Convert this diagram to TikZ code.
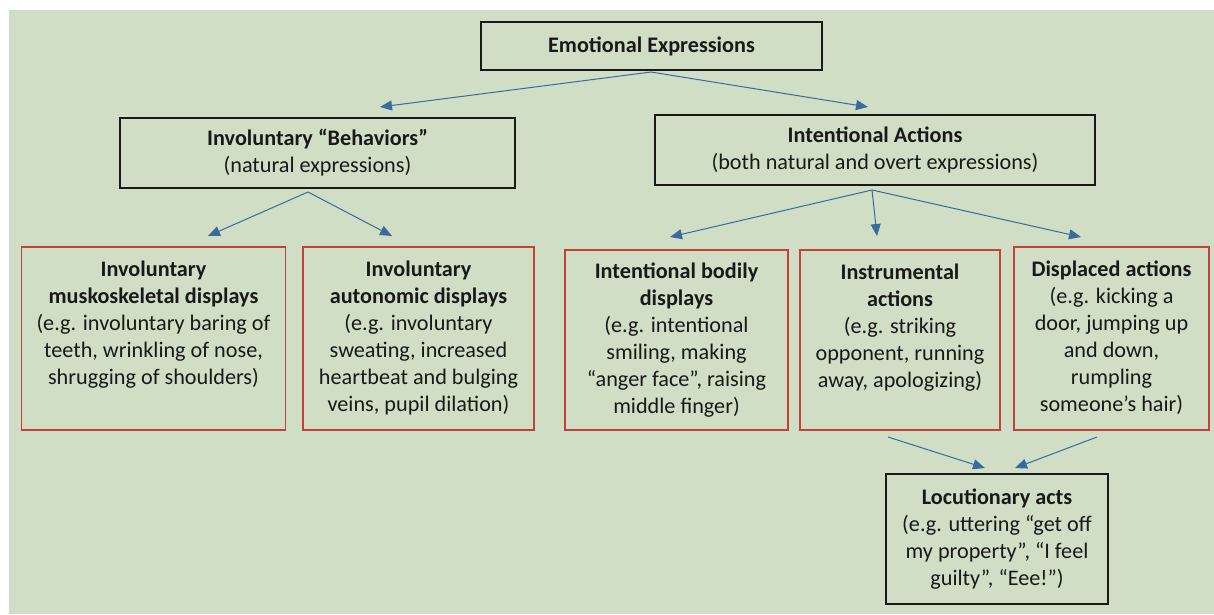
\documentclass[tikz,border=0pt]{standalone}
\usepackage{fontspec}
\setmainfont{Carlito}
\usetikzlibrary{arrows.meta}
\definecolor{bg}{RGB}{207,222,196}
\definecolor{arrblue}{RGB}{58,106,160}
\definecolor{boxred}{RGB}{196,64,60}
\definecolor{ink}{RGB}{25,25,25}
\newcommand{\fs}{\fontsize{22.2pt}{27pt}\selectfont}
\tikzset{
  blackbox/.style={draw=ink, line width=1.6pt, inner sep=0pt, align=center, font=\fs, text=ink},
  redbox/.style={draw=boxred, line width=1.8pt, inner sep=0pt, text=ink},
  arr/.style={draw=arrblue, line width=1pt, -{Triangle[length=12pt,width=10pt]}}
}
\begin{document}
\begin{tikzpicture}[x=1pt,y=-1pt]
\useasboundingbox (0,0) rectangle (1214,614);
\fill[bg] (9,10) rectangle (1214,614);

\node[blackbox, minimum width=341, minimum height=48] (top) at (651.5,46) {\textbf{Emotional Expressions}};
\node[blackbox, minimum width=395, minimum height=70] (inv) at (317.5,153) {\textbf{Involuntary “Behaviors”}\\(natural expressions)};
\node[blackbox, minimum width=440, minimum height=70] (int) at (875,150) {\textbf{Intentional Actions}\\(both natural and overt expressions)};

\node[redbox] (b1) at (153.5,338.5) {\parbox[c][183pt][t]{264pt}{\fs\centering\baselineskip=27pt\rule{0pt}{29pt}\textbf{Involuntary}\\\textbf{muskoskeletal displays}\\(e.g. involuntary baring of\\teeth, wrinkling of nose,\\shrugging of shoulders)}};
\node[redbox] (b2) at (418.5,338.5) {\parbox[c][183pt][t]{231pt}{\fs\centering\baselineskip=27pt\rule{0pt}{29pt}\textbf{Involuntary}\\\textbf{autonomic displays}\\(e.g. involuntary\\sweating, increased\\heartbeat and bulging\\veins, pupil dilation)}};
\node[redbox] (b3) at (676.5,340) {\parbox[c][180pt][t]{223pt}{\fs\centering\baselineskip=27pt\rule{0pt}{28pt}\textbf{Intentional bodily}\\\textbf{displays}\\(e.g. intentional\\smiling, making\\“anger face”, raising\\middle finger)}};
\node[redbox] (b4) at (900,340) {\parbox[c][180pt][t]{200pt}{\fs\centering\baselineskip=27pt\rule{0pt}{29pt}\textbf{Instrumental}\\\textbf{actions}\\(e.g. striking\\opponent, running\\away, apologizing)}};
\node[redbox] (b5) at (1111.5,338.5) {\parbox[c][183pt][t]{195pt}{\fs\centering\baselineskip=27pt\rule{0pt}{29pt}\textbf{Displaced actions}\\(e.g. kicking a\\door, jumping up\\and down,\\rumpling\\someone’s hair)}};

\node[blackbox, minimum width=222, minimum height=130] (loc) at (997,539) {\textbf{Locutionary acts}\\(e.g. uttering “get off\\my property”, “I feel\\guilty”, “Eee!”)};

\coordinate (s1) at (651,72);
\coordinate (e1) at (380,107);
\coordinate (e2) at (868,107);
\coordinate (s2) at (308,192);
\coordinate (e3) at (208,236);
\coordinate (e4) at (392,236);
\coordinate (s3) at (872,190);
\coordinate (e5) at (670,237);
\coordinate (e6) at (877,236);
\coordinate (e7) at (1081,237);
\coordinate (s4) at (888,437);
\coordinate (s5) at (1097,437);
\coordinate (e8) at (985,468);
\coordinate (e9) at (1015,468);

\draw[arr] (s1) -- (e1);
\draw[arr] (s1) -- (e2);
\draw[arr] (s2) -- (e3);
\draw[arr] (s2) -- (e4);
\draw[arr] (s3) -- (e5);
\draw[arr] (s3) -- (e6);
\draw[arr] (s3) -- (e7);
\draw[arr] (s4) -- (e8);
\draw[arr] (s5) -- (e9);
\end{tikzpicture}
\end{document}
